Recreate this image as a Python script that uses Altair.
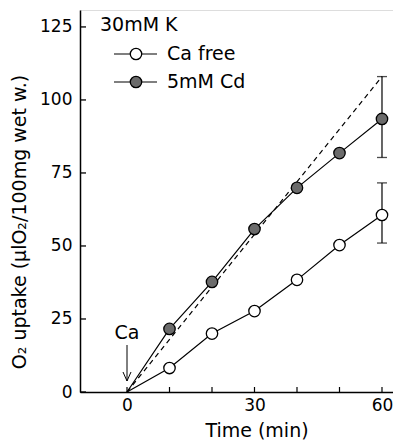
import altair as alt
import pandas as pd

# ---- data ----
time_min = [10, 20, 30, 40, 50, 60]
ca_free = [8.2, 20.0, 27.7, 38.4, 50.3, 60.6]
cd_5mm = [21.6, 37.7, 55.8, 69.9, 81.8, 93.5]
series = ["Ca free", "5mM Cd"]
err_time = [60, 60]
err_low = [51.0, 80.3]
err_high = [71.6, 108.0]
dash_time = [0, 60]
dash_val = [0, 108.0]
x_labels = [0, 30, 60]
x_ticks = [0, 10, 20, 30, 40, 50, 60]
y_ticks = [0, 25, 50, 75, 100, 125]

FONT = "DejaVu Sans"
W, H = 313, 382
xs = alt.Scale(domain=[-11.06, 62.59], nice=False, zero=False)
ys = alt.Scale(domain=[0, 130.8], nice=False, zero=False)

XAX = alt.Axis(values=x_labels, ticks=False, grid=False, title=None,
               labelPadding=5, labelFontSize=17, labelFont=FONT,
               labelColor="black", domainColor="black", domainWidth=1.5, labelFlush=False)
YAX = alt.Axis(values=y_ticks, ticks=False, grid=False, title=None,
               labelPadding=8, labelFontSize=17, labelFont=FONT,
               labelColor="black", domainColor="black", domainWidth=1.5, labelFlush=False)

lines_df = pd.DataFrame({
    "t": [0] + time_min + [0] + time_min,
    "v": [0] + ca_free + [0] + cd_5mm,
    "s": [series[0]] * 7 + [series[1]] * 7,
})
pts_df = pd.DataFrame({
    "t": time_min * 2,
    "v": ca_free + cd_5mm,
    "s": [series[0]] * 6 + [series[1]] * 6,
})
err_df = pd.DataFrame({"t": err_time, "lo": err_low, "hi": err_high, "s": series})
dash_df = pd.DataFrame({"t": dash_time, "v": dash_val})
xt_df = pd.DataFrame({"t": x_ticks})
yt_df = pd.DataFrame({"v": y_ticks})

fill_scale = alt.Scale(domain=series, range=["white", "#6b6b6b"])

def X(f):
    return alt.X(f, scale=xs, axis=XAX)

def Y(f):
    return alt.Y(f, scale=ys, axis=YAX)

lines = alt.Chart(lines_df).mark_line(color="black", strokeWidth=1.2).encode(
    x=X("t:Q"), y=Y("v:Q"), detail="s:N")

dash = alt.Chart(dash_df).mark_line(color="black", strokeWidth=1.2, strokeDash=[5, 4]).encode(
    x=X("t:Q"), y=Y("v:Q"))

err_rule = alt.Chart(err_df).mark_rule(color="black", strokeWidth=1.2).encode(
    x=X("t:Q"), y=Y("lo:Q"), y2="hi:Q")
cap_lo = alt.Chart(err_df).mark_tick(orient="horizontal", size=10, thickness=1.3, color="black").encode(
    x=X("t:Q"), y=Y("lo:Q"))
cap_hi = alt.Chart(err_df).mark_tick(orient="horizontal", size=10, thickness=1.3, color="black").encode(
    x=X("t:Q"), y=Y("hi:Q"))

points = alt.Chart(pts_df).mark_point(shape="circle", size=130, stroke="black", strokeWidth=1.3,
                                      opacity=1, fillOpacity=1).encode(
    x=X("t:Q"), y=Y("v:Q"),
    fill=alt.Fill("s:N", scale=fill_scale, legend=None),
)

# inward ticks
yticks = alt.Chart(yt_df).mark_rule(color="black", strokeWidth=1.3).encode(
    y=Y("v:Q"), x=alt.value(0), x2=alt.value(6))
xticks = alt.Chart(xt_df).mark_rule(color="black", strokeWidth=1.2).encode(
    x=X("t:Q"), y=alt.value(H), y2=alt.value(H - 5))

one = pd.DataFrame({"k": [0]})

def txt(s, x, y, size=19, align="left", angle=0):
    return alt.Chart(one).mark_text(text=s, font=FONT, fontSize=size, align=align,
                                    baseline="middle", angle=angle, color="black").encode(
        x=alt.value(x), y=alt.value(y))

def seg(x1, y1, x2, y2, w=1.2):
    return alt.Chart(one).mark_rule(color="black", strokeWidth=w).encode(
        x=alt.value(x1), y=alt.value(y1), x2=alt.value(x2), y2=alt.value(y2))

def dot(x, y, fill):
    return alt.Chart(one).mark_point(shape="circle", size=130, stroke="black", strokeWidth=1.3,
                                     fill=fill, opacity=1, fillOpacity=1).encode(
        x=alt.value(x), y=alt.value(y))

annot = [
    txt("30mM K", 20, 15),
    seg(34, 44, 77, 44), dot(56, 44, "white"), txt("Ca free", 87, 44),
    seg(34, 72, 77, 72), dot(56, 72, "#6b6b6b"), txt("5mM Cd", 87, 72),
    txt("Ca", 47, 323, align="center"),
    seg(47, 335, 47, 371, 1.0), seg(43, 362, 47, 371, 1.0), seg(51, 362, 47, 371, 1.0),
    txt("Time (min)", 177, 421, align="center"),
    txt("O₂ uptake (µlO₂/100mg wet w.)", -60, 212, align="center", angle=270),
]

chart = alt.layer(lines, dash, err_rule, cap_lo, cap_hi, points, yticks, xticks, *annot).properties(
    width=W, height=H,
    padding={"left": 72, "top": 2, "right": 0, "bottom": 53},
    autosize=alt.AutoSizeParams(type="none"),
).configure_view(stroke=None).configure(background="white")

chart.save("out.html", embed_options={"renderer": "svg", "actions": False})
